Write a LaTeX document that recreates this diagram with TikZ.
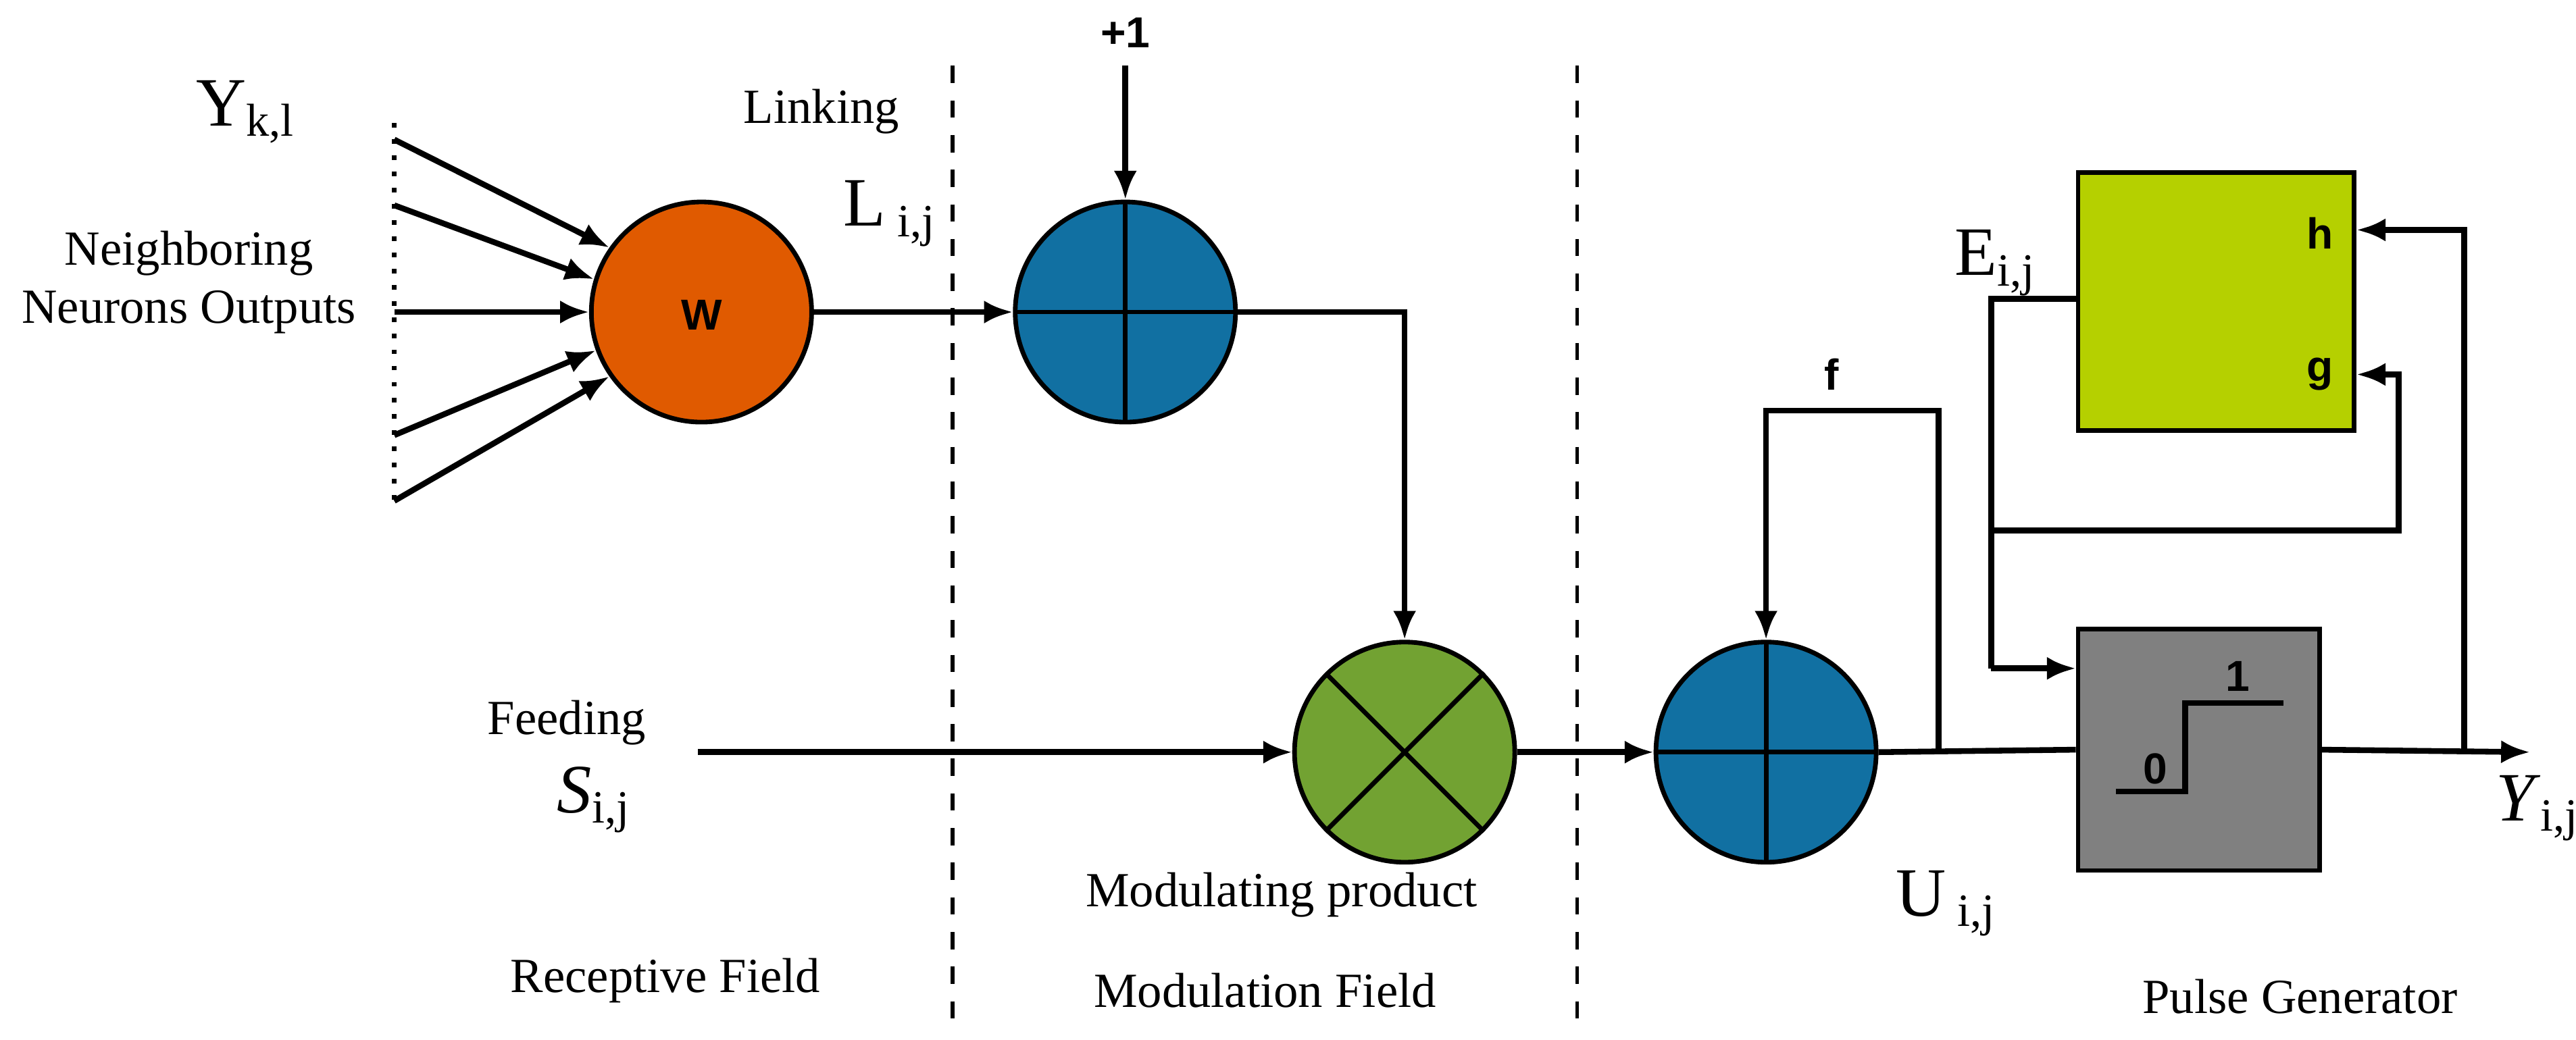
\documentclass[tikz,border=0pt]{standalone}
\usepackage{fontspec}
\setmainfont{Liberation Serif}
\newfontfamily\sfb{Liberation Sans}
\usetikzlibrary{arrows.meta}
\definecolor{org}{HTML}{E05A00}
\definecolor{blu}{HTML}{1170A2}
\definecolor{grn}{HTML}{72A232}
\definecolor{yel}{HTML}{B5D000}
\definecolor{gry}{HTML}{808080}
\begin{document}
\begin{tikzpicture}[x=0.01cm,y=-0.01cm,
  ln/.style={line width=1pt},
  ar/.style={ln,-{Latex[length=5pt,width=4pt]}},
  circ/.style={circle,draw,line width=0.8pt,minimum size=1.34cm,inner sep=0pt},
  lab/.style={font=\fontsize{8.5}{10}\selectfont,align=center},
  big/.style={font=\fontsize{12}{14}\selectfont},
  sb/.style={font=\sfb\bfseries\fontsize{7.5}{9}\selectfont}]
\useasboundingbox (0,0) rectangle (1568,633);
% dashed separators
\draw[dashed,line width=0.7pt] (580,40) -- (580,630);
\draw[dashed,line width=0.7pt] (960,40) -- (960,630);
% nodes
\node[circ,fill=org] (w) at (427,190) {};
\node[sb] at (427,192) {W};
\node[circ,fill=blu] (p1) at (685,190) {};
\draw[line width=0.8pt] (618,190)--(752,190) (685,123)--(685,257);
\node[circ,fill=grn] (m) at (855,458) {};
\draw[line width=0.8pt] (m.north west)--(m.south east) (m.north east)--(m.south west);
\node[circ,fill=blu] (p2) at (1075,458) {};
\draw[line width=0.8pt] (1008,458)--(1142,458) (1075,391)--(1075,525);
\node[draw,line width=0.8pt,fill=gry,minimum width=1.47cm,minimum height=1.47cm] (pg) at (1338.5,456.5) {};
\draw[line width=1pt] (1288,482)--(1330,482)--(1330,428)--(1390,428);
\node[sb] at (1312,468) {0};
\node[sb] at (1362,412) {1};
\node[draw,line width=0.8pt,fill=yel,minimum width=1.68cm,minimum height=1.57cm] (th) at (1349,183.5) {};
\node[sb] at (1412,142) {h};
\node[sb] at (1412,228) {g};
% inputs
\draw[dotted,line width=0.8pt] (240,75)--(240,305);
\coordinate (i1) at (240,85); \coordinate (i2) at (240,125); \coordinate (i3) at (240,190);
\coordinate (i4) at (240,265); \coordinate (i5) at (240,305);
\draw[ar] (i1)--(w.145);
\draw[ar] (i2)--(w.163);
\draw[ar] (i3)--(w.west);
\draw[ar] (i4)--(w.200);
\draw[ar] (i5)--(w.215);
% links
\draw[ar] (w.east)--(p1.west);
\coordinate (one) at (685,40);
\draw[ar] (one)--(p1.north);
\draw[ar] (p1.east)--(855,190)--(m.north);
\coordinate (s) at (425,458);
\draw[ar] (s)--(m.west);
\draw[ar] (m.east)--(p2.west);
\draw[ln] (p2.east)--(pg.west);
\draw[ar] (1180,458)--(1180,250)--(1075,250)--(p2.north);
\coordinate (out) at (1540,458);
\draw[ar] (pg.east)--(out);
\draw[ar] (1500,458)--(1500,140)--(th.east|-0,140);
\draw[ln] (th.west|-0,182)--(1212,182)--(1212,407);
\draw[ar] (1212,407)--(pg.west|-0,407);
\draw[ar] (1212,323)--(1460,323)--(1460,228)--(th.east|-0,228);
% labels
\node[big] at (150,68) {Y\textsubscript{k,l}};
\node[lab] at (115,172) {Neighboring\\Neurons Outputs};
\node[lab] at (500,68) {Linking};
\node[big] at (542,130) {L\,\textsubscript{i,j}};
\node[sb] at (685,20) {+1};
\node[sb] at (1115,228) {f};
\node[big] at (1215,160) {E\textsubscript{i,j}};
\node[lab] at (345,440) {Feeding};
\node[big] at (362,487) {\textit{S}\textsubscript{i,j}};
\node[big] at (1185,550) {U\,\textsubscript{i,j}};
\node[big] at (1545,492) {\textit{Y}\textsubscript{i,j}};
\node[lab] at (780,545) {Modulating product};
\node[lab] at (405,597) {Receptive Field};
\node[lab] at (770,603) {Modulation Field};
\node[lab] at (1400,607) {Pulse Generator};
\end{tikzpicture}
\end{document}
